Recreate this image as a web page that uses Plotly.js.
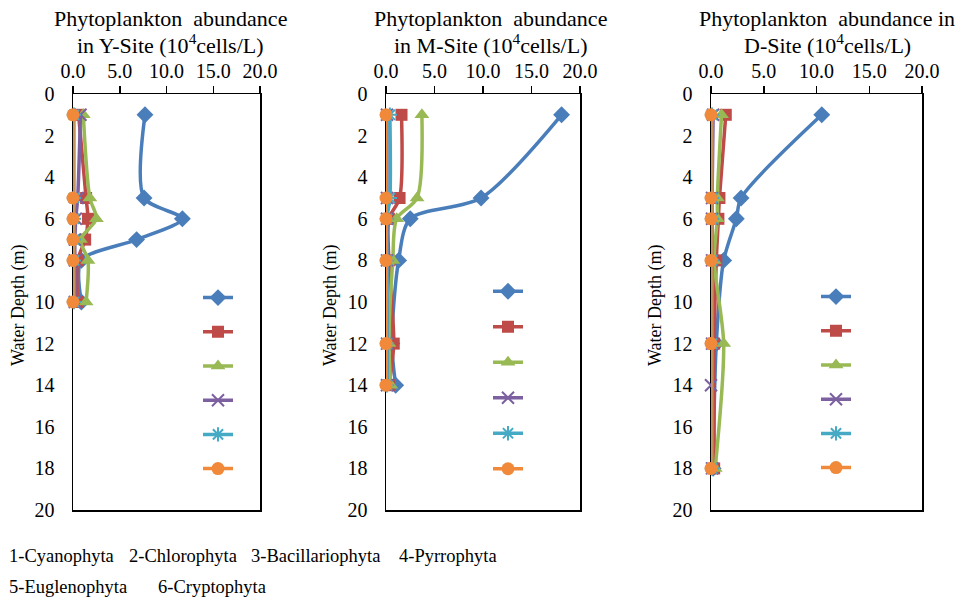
<!DOCTYPE html>
<html><head><meta charset="utf-8">
<script src="https://cdn.plot.ly/plotly-3.0.1.min.js"></script>
<style>body{margin:0;background:#fff}#chart{width:959px;height:600px}</style>
</head><body><div id="chart"></div><script>
// ---- data ----
const seriesNames = ["1-Cyanophyta","2-Chlorophyta","3-Bacillariophyta","4-Pyrrophyta","5-Euglenophyta","6-Cryptophyta"];
const siteTitles1 = ["Phytoplankton  abundance","Phytoplankton  abundance","Phytoplankton  abundance in"];
const siteTitles2 = ["in Y-Site (10<sup>4</sup>cells/L)","in M-Site (10<sup>4</sup>cells/L)","D-Site (10<sup>4</sup>cells/L)"];
const xTickVals = [0,5,10,15,20];
const xTickText = ["0.0","5.0","10.0","15.0","20.0"];
const yTickVals = [0,2,4,6,8,10,12,14,16,18,20];

// Y-Site
const yDepth = [1,5,6,7,8,10];
const yCyano = [7.7,7.6,11.7,6.8,0.9,0.9];
const yChloro = [0.6,1.4,1.6,1.3,0.5,0.5];
const yBacil = [1.1,1.8,2.5,0.8,1.6,1.4];
const yPyrro = [0.8,0.5,0.3,0.2,0.2,0.2];
const yEugl = [0.1,0.1,0.1,0.1,0.1,0.1];
const yCrypto = [0.0,0.0,0.0,0.0,0.0,0.0];

// M-Site
const mDepth = [1,5,6,8,12,14];
const mCyano = [18.1,9.8,2.5,1.3,0.6,1.0];
const mChloro = [1.6,1.4,0.3,0.3,0.8,0.3];
const mBacil = [3.7,3.2,1.1,0.7,0.3,0.5];
const mPyrro = [0.1,0.1,0.1,0.1,0.1,0.1];
const mEugl = [0.4,0.4,0.1,0.1,0.1,0.1];
const mCrypto = [0.0,0.0,0.0,0.0,0.0,0.0];

// D-Site
const dDepth = [1,5,6,8,12,18];
const dCyano = [10.5,2.85,2.4,1.2,0.5,0.2];
const dChloro = [1.4,0.8,0.7,0.5,0.3,0.3];
const dBacil = [1.0,0.6,0.6,0.3,1.2,0.4];
const dPyrroDepth = [1,5,6,8,12,14,18];
const dPyrro = [0.2,0.1,0.1,0.1,0.1,0.0,0.1];
const dEugl = [0.1,0.1,0.1,0.1,0.1,0.1];
const dCrypto = [0.0,0.0,0.0,0.0,0.0,0.0];

// ---- styles ----
const colors = ["#4A7EBB","#BE4B48","#98B954","#7D60A0","#46AAC5","#F08A3A"];
const symbols = ["diamond","square","triangle-up","x-thin","asterisk","circle"];
const msizes = [13,12,13,12,12,13];
const FONT = '"Liberation Serif","Times New Roman",serif';

function mk(xs, ys, i, ax, leg){
  const thin = (symbols[i]==="x-thin"||symbols[i]==="asterisk");
  return {
    type:"scatter", mode:"lines+markers", x:xs, y:ys, name:" ",
    xaxis:"x"+(ax===1?"":ax), yaxis:"y"+(ax===1?"":ax),
    legend: leg, cliponaxis:false,
    line:{color:colors[i], width:3.5, shape:"spline", smoothing:0.8},
    marker:{symbol:symbols[i], size:msizes[i], color:colors[i],
      line:{color:colors[i], width: thin?2:0}}
  };
}
const panels = [
  {d:yDepth, s:[yCyano,yChloro,yBacil,yPyrro,yEugl,yCrypto], pd:yDepth},
  {d:mDepth, s:[mCyano,mChloro,mBacil,mPyrro,mEugl,mCrypto], pd:mDepth},
  {d:dDepth, s:[dCyano,dChloro,dBacil,dPyrro,dEugl,dCrypto], pd:dPyrroDepth}
];
const legNames = ["legend","legend2","legend3"];
const traces = [];
panels.forEach((p,k)=>{
  p.s.forEach((vals,i)=>{
    const depth = (i===3)?p.pd:p.d;
    traces.push(mk(vals, depth, i, k+1, legNames[k]));
  });
});

const xDomains = [[73/959,260/959],[386/959,580/959],[711/959,922/959]];
const yDomain = [1-510/600, 1-94/600];
const layout = {
  width:959, height:600, margin:{l:0,r:0,t:0,b:0},
  paper_bgcolor:"#fff", plot_bgcolor:"#fff",
  font:{family:FONT, size:20, color:"#000"},
  showlegend:true, annotations:[]
};
const legPos = [[218,297,24],[508,290,25],[836,296,24]];
for(let k=0;k<3;k++){
  const sfx = k===0?"":String(k+1);
  layout["xaxis"+sfx] = {
    domain:xDomains[k], anchor:"y"+sfx, side:"top", range:[0,20],
    tickvals:xTickVals, ticktext:xTickText, ticks:"outside", ticklen:7, tickwidth:1.5,
    tickcolor:"#000", showline:true, linecolor:"#000", linewidth:1.5, mirror:true,
    showgrid:false, zeroline:false, layer:"below traces",
    tickfont:{family:FONT,size:20,color:"#000"}
  };
  layout["yaxis"+sfx] = {
    domain:yDomain, anchor:"x"+sfx, range:[20,0], tickvals:yTickVals,
    ticks:"", ticklabelstandoff:13, showline:true, linecolor:"#000", linewidth:1.5, mirror:true,
    showgrid:false, zeroline:false, layer:"below traces",
    tickfont:{family:FONT,size:20,color:"#000"}
  };
  const lp = legPos[k];
  layout[legNames[k]] = {
    x:(lp[0]-20)/959, xanchor:"left", y:1-(lp[1]-21.5)/600, yanchor:"top",
    bgcolor:"rgba(0,0,0,0)", borderwidth:0, itemwidth:30,
    font:{family:FONT,size:lp[2],color:"#000"}, tracegroupgap:0
  };
}
const titleCx = [170,490,827];
for(let k=0;k<3;k++){
  layout.annotations.push({xref:"paper",yref:"paper",x:titleCx[k]/959,y:1-19/600,
    xanchor:"center",yanchor:"middle",showarrow:false,text:siteTitles1[k],
    font:{family:FONT,size:22,color:"#000"}});
  layout.annotations.push({xref:"paper",yref:"paper",x:titleCx[k]/959,y:1-44/600,
    xanchor:"center",yanchor:"middle",showarrow:false,text:siteTitles2[k],
    font:{family:FONT,size:22,color:"#000"}});
}
const yTitleX = [18,330,655];
yTitleX.forEach(x=>{
  layout.annotations.push({xref:"paper",yref:"paper",x:x/959,y:1-305/600,
    xanchor:"center",yanchor:"middle",textangle:-90,showarrow:false,text:"Water Depth (m)",
    font:{family:FONT,size:18,color:"#000"}});
});
const bottomPos = [[7,556],[127,556],[249,556],[397,556],[7,587],[156,587]];
seriesNames.forEach((n,i)=>{
  layout.annotations.push({xref:"paper",yref:"paper",x:bottomPos[i][0]/959,y:1-bottomPos[i][1]/600,
    xanchor:"left",yanchor:"middle",showarrow:false,text:n,
    font:{family:FONT,size:18.5,color:"#000"}});
});
Plotly.newPlot("chart", traces, layout, {displayModeBar:false, staticPlot:true});
</script></body></html>
